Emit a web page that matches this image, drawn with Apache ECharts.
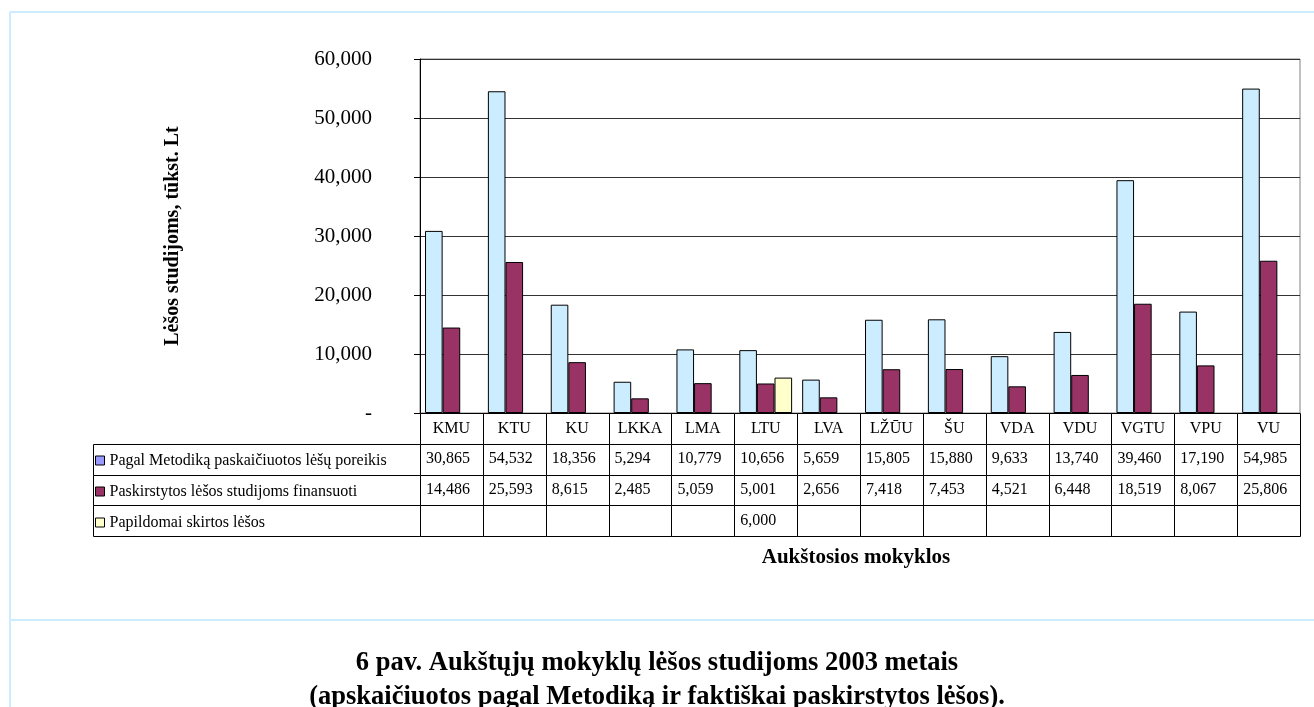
<!DOCTYPE html>
<html>
<head>
<meta charset="utf-8">
<script src="https://cdn.jsdelivr.net/npm/echarts@6/dist/echarts.min.js"></script>
<style>
html,body{margin:0;padding:0;background:#fff;}
#c{width:1314px;height:707px;}
</style>
</head>
<body>
<div id="c"></div>
<script>
const categories = ['KMU','KTU','KU','LKKA','LMA','LTU','LVA','LŽŪU','ŠU','VDA','VDU','VGTU','VPU','VU'];
const seriesNames = [
  'Pagal Metodiką paskaičiuotos lėšų poreikis',
  'Paskirstytos lėšos studijoms finansuoti',
  'Papildomai skirtos lėšos'
];
const needValues = [30865,54532,18356,5294,10779,10656,5659,15805,15880,9633,13740,39460,17190,54985];
const allocatedValues = [14486,25593,8615,2485,5059,5001,2656,7418,7453,4521,6448,18519,8067,25806];
const extraValues = [null,null,null,null,null,6000,null,null,null,null,null,null,null,null];
const yTicks = {min:0, max:60000, interval:10000};
const yTitle = 'Lėšos studijoms, tūkst. Lt';
const xTitle = 'Aukštosios mokyklos';
const caption1 = '6 pav. Aukštųjų mokyklų lėšos studijoms 2003 metais';
const caption2 = '(apskaičiuotos pagal Metodiką ir faktiškai paskirstytos lėšos).';

const FONT = "'Liberation Serif','Times New Roman',serif";
const barColors = ['#CCECFF','#993366','#FFFFCC'];
const legendColors = ['#9999FF','#993366','#FFFFCC'];
const fmt = v => (v === null || v === undefined) ? '' : v.toLocaleString('en-US');

const seriesValues = [needValues, allocatedValues, extraValues];
const rowKeys = ['hdr','s0','s1','s2'];
const LABEL_COL_W = 327;

const cells = [];
categories.forEach((c, i) => cells.push({i, r:0, text:c, header:true}));
seriesValues.forEach((vals, s) => {
  vals.forEach((v, i) => cells.push({i, r:s+1, text:fmt(v), header:false}));
  cells.push({i:-1, r:s+1, text:'', header:false, labelCol:true});
});

const chart = echarts.init(document.getElementById('c'), null, {renderer:'canvas'});

const option = {
  backgroundColor:'#fff',
  animation:false,
  textStyle:{fontFamily:FONT},
  grid:[
    {left:420, right:14, top:59, height:354, show:true, borderColor:'#808080', borderWidth:1, backgroundColor:'transparent', containLabel:false},
    {left:420, right:14, top:413, height:123, containLabel:false}
  ],
  xAxis:[
    {gridIndex:0, type:'category', data:categories, axisLine:{show:false}, axisTick:{show:false}, axisLabel:{show:false}},
    {gridIndex:1, type:'category', data:categories, show:false}
  ],
  yAxis:[
    {gridIndex:0, type:'value', min:yTicks.min, max:yTicks.max, interval:yTicks.interval,
     name:yTitle, nameLocation:'middle', nameRotate:90, nameGap:237,
     nameTextStyle:{fontFamily:FONT, fontSize:20, fontWeight:'bold', color:'#000'},
     axisLine:{show:true, lineStyle:{color:'#000', width:1}},
     axisTick:{show:true, inside:false, length:6, lineStyle:{color:'#000'}},
     axisLabel:{margin:48, fontFamily:FONT, fontSize:21, color:'#000', formatter:v => v === 0 ? '-' : fmt(v)},
     splitLine:{show:true, lineStyle:{color:'#333', width:1}}},
    {gridIndex:1, type:'category', data:rowKeys, inverse:true, show:false}
  ],
  legend:{
    orient:'vertical', left:95, top:445, padding:0, itemGap:0,
    itemWidth:9, itemHeight:9, icon:'rect', selectedMode:false,
    textStyle:{fontFamily:FONT, fontSize:16, color:'#000', lineHeight:31},
    data:seriesNames.map((n, k) => ({name:n, itemStyle:{color:legendColors[k], borderColor:'#000', borderWidth:1}}))
  },
  series:[
    ...seriesValues.map((vals, k) => ({
      name:seriesNames[k], type:'bar', xAxisIndex:0, yAxisIndex:0,
      data:vals, barGap:'0%', barCategoryGap:'16%',
      itemStyle:{color:barColors[k], borderColor:'#000', borderWidth:1}
    })),
    {
      type:'custom', xAxisIndex:1, yAxisIndex:1, clip:false, silent:true,
      data:cells.map(c => [Math.max(c.i,0), c.r]),
      renderItem:(params, api) => {
        const c = cells[params.dataIndex];
        const p = api.coord([Math.max(c.i,0), c.r]);
        const s = api.size([1,1]);
        let x = p[0] - s[0]/2, w = s[0];
        const y = p[1] - s[1]/2, h = s[1];
        if (c.labelCol) { x = x - LABEL_COL_W; w = LABEL_COL_W; }
        const children = [{
          type:'rect',
          shape:{x:Math.round(x)+0.5, y:Math.round(y)+0.5, width:Math.round(w), height:Math.round(h)},
          style:{fill:'#fff', stroke:'#000', lineWidth:1}
        }];
        if (c.text) {
          children.push({
            type:'text',
            style:{
              text:c.text, x:c.header ? p[0] : x + 6, y:p[1],
              align:c.header ? 'center' : 'left', verticalAlign:'middle',
              fontFamily:FONT, fontSize:16, fill:'#000'
            }
          });
        }
        return {type:'group', children};
      }
    }
  ],
  graphic:[
    {type:'line', shape:{x1:10, y1:12, x2:1314, y2:12}, style:{stroke:'#CCECFF', lineWidth:2}},
    {type:'line', shape:{x1:10, y1:12, x2:10, y2:707}, style:{stroke:'#CCECFF', lineWidth:2}},
    {type:'line', shape:{x1:10, y1:620, x2:1314, y2:620}, style:{stroke:'#CCECFF', lineWidth:2}},
    {type:'text', x:856, y:558, style:{text:xTitle, align:'center', verticalAlign:'middle', fontFamily:FONT, fontSize:21, fontWeight:'bold', fill:'#000'}},
    {type:'text', x:657, y:663, style:{text:caption1, align:'center', verticalAlign:'middle', fontFamily:FONT, fontSize:26.5, fontWeight:'bold', fill:'#000'}},
    {type:'text', x:657, y:697, style:{text:caption2, align:'center', verticalAlign:'middle', fontFamily:FONT, fontSize:26.5, fontWeight:'bold', fill:'#000'}}
  ]
};
chart.setOption(option);
</script>
</body>
</html>
